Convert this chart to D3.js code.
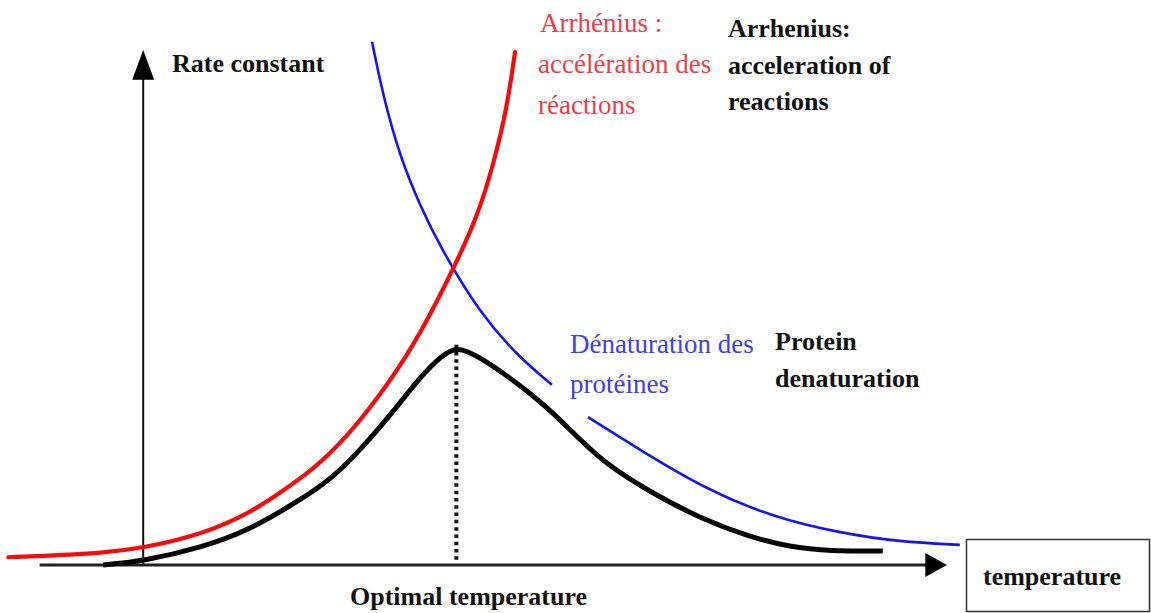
<!DOCTYPE html>
<html>
<head>
<meta charset="utf-8">
<script src="https://cdn.jsdelivr.net/npm/d3@7"></script>
<style>
  html, body { margin: 0; padding: 0; background: #ffffff; }
  svg { display: block; }
  .en { font-family: "Liberation Serif", "Times New Roman", serif; font-weight: bold; font-size: 26px; fill: #111; }
  .fr { font-family: "Liberation Serif", "Times New Roman", serif; font-size: 27px; }
</style>
</head>
<body>
<div id="chart"></div>
<script>
// curves: temperature (t) vs rate constant (r), arbitrary units
const redT   = [-16.9, -10.5, -5.5, -0.1, 7.0, 13.2, 16.9, 21.0, 25.3, 29.4, 33.5, 37.7, 41.5, 43.5, 45.2, 46.2];
const redR   = [1.5, 1.9, 2.3, 3.3, 5.8, 10.1, 14.0, 18.4, 24.9, 33.0, 42.3, 54.8, 67.4, 77.7, 88.7, 99.6];

// null marks the break in the blue line behind its label
const blueT  = [28.4, 29.8, 31.9, 34.4, 36.9, 41.8, 46.8, 50.8, null, 55.3, 61.8, 70.1, 78.3, 86.7, 94.1, 101.6];
const blueR  = [101.6, 90.9, 79.2, 69.7, 61.7, 48.9, 40.2, 35.0, null, 28.7, 22.3, 14.6, 9.3, 6.2, 4.5, 3.9];

const blackT = [-5.1, 0, 7.0, 13.2, 19.4, 23.2, 27.3, 31.5, 34.4, 36.9, 38.9, 41.8, 46.0, 50.2, 54.3, 57.7, 63.0, 69.2, 75.5, 80.4, 85.4, 92.0];
const blackR = [0, 0.8, 3.3, 6.8, 12.6, 16.5, 22.9, 30.7, 36.5, 40.4, 42.6, 40.4, 35.9, 30.7, 24.3, 19.4, 14.2, 9.1, 5.4, 3.5, 2.7, 2.7];

const optimumT = 38.9;
const optimumR = 42.0;

const W = 1151, H = 613;

var svg = d3.select("#chart")
    .append("svg")
    .attr("width", W)
    .attr("height", H);

var x = d3.scaleLinear().domain([0, 100]).range([144, 947]);
var y = d3.scaleLinear().domain([0, 100]).range([565, 50]);

function pts(ts, rs) {
    return ts.map((t, i) => ({ t: t, r: rs[i] }));
}

// b-spline smooths out the small reading errors in the points
var line = d3.line()
    .defined(d => d.t != null)
    .x(d => x(d.t))
    .y(d => y(d.r))
    .curve(d3.curveBasis);

// axes (no ticks, just arrows)
svg.append("line")
    .attr("x1", x(-13)).attr("x2", x(97.5))
    .attr("y1", y(0)).attr("y2", y(0))
    .attr("stroke", "#222").attr("stroke-width", 3);
svg.append("path")
    .attr("d", "M" + x(97.3) + "," + (y(0) - 12) + "L" + x(100) + "," + y(0) + "L" + x(97.3) + "," + (y(0) + 12) + "Z")
    .attr("fill", "#000");

svg.append("line")
    .attr("x1", x(-0.1)).attr("x2", x(-0.1))
    .attr("y1", y(0)).attr("y2", y(96))
    .attr("stroke", "#111").attr("stroke-width", 2);
svg.append("path")
    .attr("d", "M" + (x(-0.1) - 11) + "," + y(94.2) + "L" + x(-0.1) + "," + y(100) + "L" + (x(-0.1) + 11) + "," + y(94.2) + "Z")
    .attr("fill", "#000");

// optimal temperature marker
svg.append("line")
    .attr("x1", x(optimumT)).attr("x2", x(optimumT))
    .attr("y1", y(1)).attr("y2", y(optimumR + 0.8))
    .attr("stroke", "#111")
    .attr("stroke-width", 4)
    .attr("stroke-dasharray", "3.5,3.8");

// curves
svg.append("path")
    .datum(pts(blueT, blueR))
    .attr("d", line)
    .attr("fill", "none")
    .attr("stroke", "#1414f0")
    .attr("stroke-width", 2.6);

svg.append("path")
    .datum(pts(redT, redR))
    .attr("d", line)
    .attr("fill", "none")
    .attr("stroke", "#f20c0c")
    .attr("stroke-width", 4.2)
    .attr("stroke-linecap", "round");

svg.append("path")
    .datum(pts(blackT, blackR))
    .attr("d", line)
    .attr("fill", "none")
    .attr("stroke", "#050505")
    .attr("stroke-width", 5);

// labels
function label(txt, px, py, cls, color) {
    var t = svg.append("text")
        .attr("class", cls)
        .attr("x", px)
        .attr("y", py)
        .text(txt);
    if (color) t.style("fill", color);
    return t;
}

label("Rate constant", 172, 72, "en");

label("Arrhénius :", 540, 32, "fr", "#e8404a");
label("accélération des", 538, 73, "fr", "#e8404a");
label("réactions", 538, 114, "fr", "#e8404a");

label("Arrhenius:", 728, 37, "en");
label("acceleration of", 728, 74, "en");
label("reactions", 728, 110, "en");

label("Dénaturation des", 570, 353, "fr", "#4040dc");
label("protéines", 570, 393, "fr", "#4040dc");

label("Protein", 775, 350, "en");
label("denaturation", 775, 387, "en");

label("Optimal temperature", 350, 605, "en");

// temperature box
svg.append("rect")
    .attr("x", 966.5).attr("y", 539.5)
    .attr("width", 183).attr("height", 72)
    .attr("fill", "#fff")
    .attr("stroke", "#333")
    .attr("stroke-width", 1.5);
label("temperature", 983, 585, "en");
</script>
</body>
</html>
